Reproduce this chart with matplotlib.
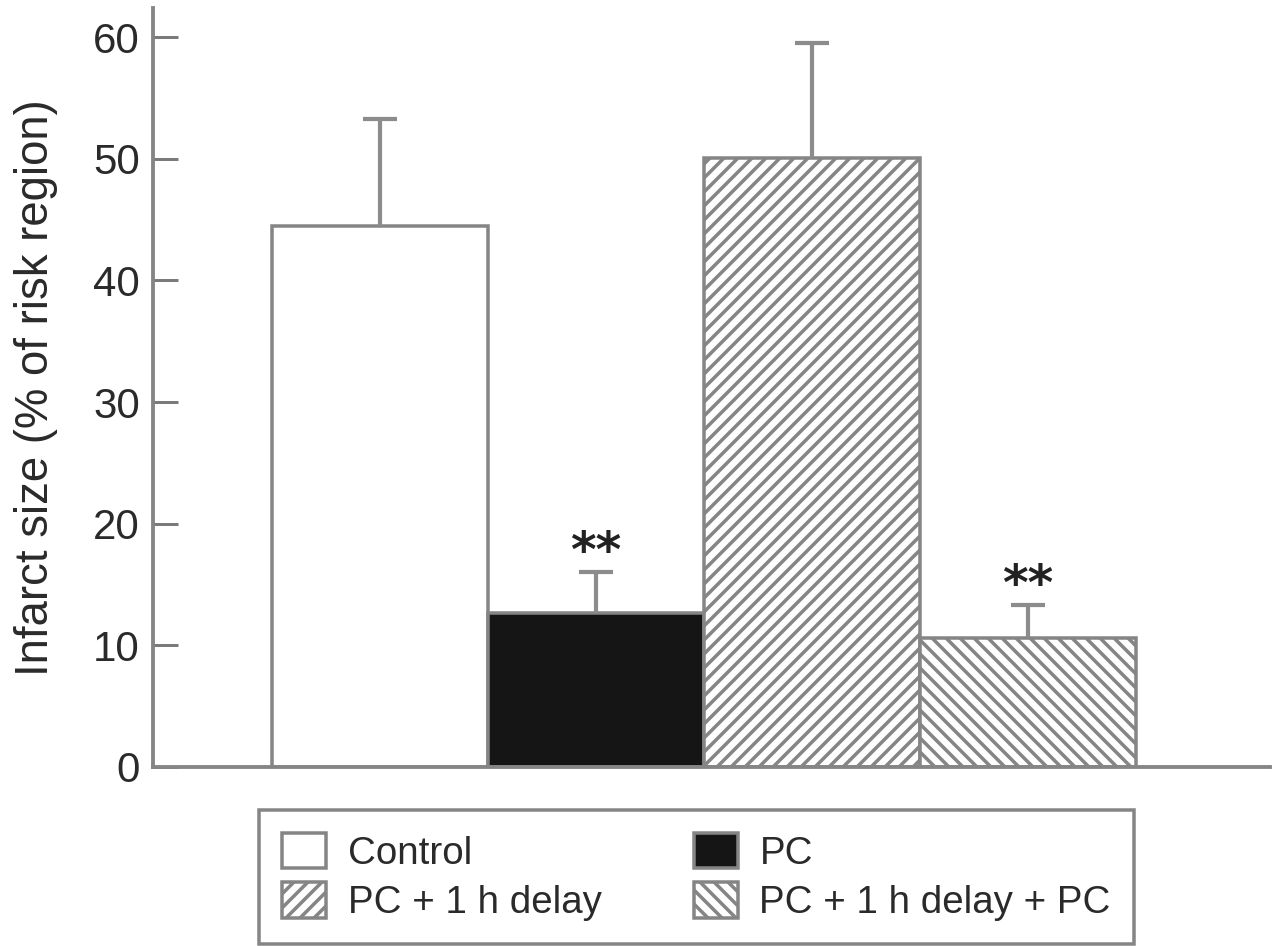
import matplotlib
matplotlib.use("Agg")
import matplotlib.pyplot as plt
from matplotlib.patches import Patch

# Infarct size per treatment group (mean and SEM, % of risk region)
groups = ["Control", "PC", "PC + 1 h delay", "PC + 1 h delay + PC"]
infarct_mean = [44.5, 12.7, 50.1, 10.6]
infarct_sem = [8.8, 3.3, 9.4, 2.7]
significance = ["", "**", "", "**"]
y_ticks = [0, 10, 20, 30, 40, 50, 60]

DPI = 126
plt.rcParams["font.family"] = ["Liberation Sans", "DejaVu Sans"]
plt.rcParams["hatch.linewidth"] = 2.0

TEXT = "#2a2a2a"
EDGE = "#858585"

fig = plt.figure(figsize=(1274 / DPI, 946 / DPI), dpi=DPI)
ax = fig.add_axes([153 / 1274, 1 - 767 / 946, (1270 - 153) / 1274, (767 - 8) / 946])

faces = ["white", "#151515", "white", "white"]
hatches = [None, None, "///", "\\\\\\"]
x = list(range(len(groups)))

bars = ax.bar(x, infarct_mean, width=1.0, color=faces, edgecolor=EDGE,
              linewidth=2.0, zorder=2)
for bar, h in zip(bars, hatches):
    if h:
        bar.set_hatch(h)

# one-sided (upward) error bars
eb = ax.errorbar(x, infarct_mean, yerr=[[0] * len(x), infarct_sem], fmt="none",
                 ecolor="#8c8c8c", elinewidth=2.4, capsize=9.7, capthick=2.4,
                 zorder=3)
for cap in eb[1]:
    if list(cap.get_ydata()) == infarct_mean:
        cap.set_visible(False)

for xi, m, s, mark in zip(x, infarct_mean, infarct_sem, significance):
    if mark:
        ax.text(xi, m + s + 1.6, mark, ha="center", va="center",
                fontsize=28, fontweight="bold", family="DejaVu Sans",
                color="#222222")

ax.set_xlim(-1.05, 4.12)
ax.set_ylim(0, 62.4)
ax.set_yticks(y_ticks)
ax.set_xticks([])
ax.tick_params(axis="y", direction="in", length=14, width=1.7, color="#7a7a7a",
               labelsize=24, pad=7.5, labelcolor=TEXT)
for side in ("top", "right"):
    ax.spines[side].set_visible(False)
for side in ("left", "bottom"):
    ax.spines[side].set_color(EDGE)
    ax.spines[side].set_linewidth(2.2)

ax.set_ylabel("Infarct size (% of risk region)", fontsize=26, color=TEXT,
              labelpad=20)

order = [0, 2, 1, 3]
handles = [Patch(facecolor=faces[i], edgecolor=EDGE, hatch=hatches[i],
                 linewidth=2.0) for i in order]
labels = [groups[i] for i in order]
leg = fig.legend(handles, labels, ncol=2, loc="center",
                 bbox_to_anchor=(696.5 / 1274, 1 - 877 / 946),
                 frameon=True, fancybox=False, edgecolor=EDGE, framealpha=1,
                 fontsize=22, labelcolor=TEXT, handlelength=1.15,
                 handleheight=1.05, handletextpad=0.55, columnspacing=2.4,
                 labelspacing=0.28, borderpad=0.6)
leg.get_frame().set_linewidth(2.0)

fig.savefig("out.png", dpi=DPI)
